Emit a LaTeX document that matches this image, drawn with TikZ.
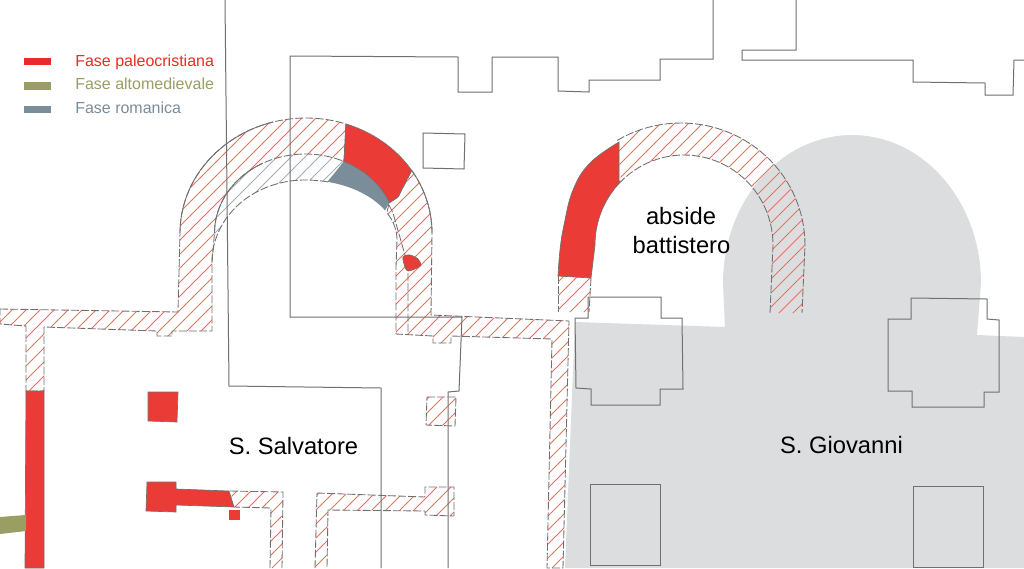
\documentclass[tikz,border=0pt]{standalone}
\usepackage{fontspec}
\setmainfont{Liberation Sans}
\definecolor{rosso}{HTML}{EB3B36}
\definecolor{rossotxt}{HTML}{EE2A26}
\definecolor{oliva}{HTML}{9A9E62}
\definecolor{azzurro}{HTML}{7B8D99}
\definecolor{grigiobg}{HTML}{DCDDDF}
\definecolor{tratto}{HTML}{707070}
\definecolor{hatchred}{HTML}{FA6A62}
\definecolor{hatchgray}{HTML}{A3AFB5}
\tikzset{
  wall/.style={draw=tratto,line width=0.65pt,dash pattern=on 6pt off 1.6pt},
  solidwall/.style={draw=tratto,line width=0.65pt},
  planline/.style={draw=tratto,line width=0.75pt},
  redfill/.style={fill=rosso,draw=tratto,line width=0.5pt},
  legtxt/.style={font=\fontsize{12}{15}\selectfont,anchor=base west,inner sep=0pt},
  bigtxt/.style={font=\fontsize{17.8}{20}\selectfont,anchor=base,inner sep=0pt,text=black},
  arcp/.style={samples=40,variable=\t}
}
\newcommand{\hatchin}[2]{%
  \begin{scope}
    \clip #2;
    \foreach \c in {0,14,...,1610} {\draw[#1,line width=0.6pt] (\c,0) -- (\c-568,568);}
  \end{scope}}
% elliptical arcs, as parametric coordinates
\newcommand{\Ox}{306+126*cos(\t)}\newcommand{\Oy}{233-115*sin(\t)}
\newcommand{\Mx}{305.5+91*cos(\t)}\newcommand{\My}{233-79*sin(\t)}
\newcommand{\Lx}{305+93*cos(\t)}\newcommand{\Ly}{262-82*sin(\t)}
\newcommand{\Rx}{305+92*cos(\t)}\newcommand{\Ry}{240-60*sin(\t)}
\newcommand{\Bx}{681+124*cos(\t)}\newcommand{\By}{245-122*sin(\t)}
\newcommand{\Ix}{684+89*cos(\t)}\newcommand{\Iy}{245-90*sin(\t)}
\newcommand{\salvL}{(0,309) -- (178,312) -- (180,233) -- plot[arcp,domain=180:71.5] ({\Ox},{\Oy}) -- (344,161) -- plot[arcp,domain=65:180] ({\Mx},{\My}) -- (212,262) -- (212,331) -- (172,331) -- (172,336) -- (157,336) -- (157,331) -- (44,327) -- (44,391) -- (26,391) -- (26,326) -- (0,324) -- cycle}
\newcommand{\salvM}{plot[arcp,domain=180:65] ({\Mx},{\My}) -- (337,170) -- (328,181) -- plot[arcp,domain=75.5:90] ({\Rx},{\Ry}) -- plot[arcp,domain=90:180] ({\Lx},{\Ly}) -- cycle}
\newcommand{\salvR}{plot[arcp,domain=33:0] ({\Ox},{\Oy}) -- (431,315) -- (569,321) -- (563,568) -- (547,568) -- (552,339) -- (451,336) -- (451,343) -- (433,343) -- (433,336) -- (396,334) -- (396,267) -- (397,240) -- plot[arcp,domain=0:27] ({\Rx},{\Ry}) -- (389,203) -- (398,197) -- cycle}
\newcommand{\batt}{plot[arcp,domain=121:0] ({\Bx},{\By}) -- (802,313) -- (770,313) -- (773,245) -- plot[arcp,domain=0:135] ({\Ix},{\Iy}) -- cycle}
\begin{document}
\begin{tikzpicture}[x=0.75pt,y=-0.75pt]
\useasboundingbox (0,0) rectangle (1024,568);
\fill[white] (0,0) rectangle (1024,568);

% S. Giovanni ground plan
\fill[grigiobg] (575,322) -- (725,327) -- (723,283) -- plot[samples=60,variable=\t,domain=180:0] ({852+129*cos(\t)},{283-148*sin(\t)}) -- (977,335) -- (1024,337) -- (1024,568) -- (565,568) -- cycle;

% hatching
\hatchin{hatchred}{\salvL}
\hatchin{hatchgray}{\salvM}
\hatchin{hatchred}{\salvR}
\hatchin{hatchred}{\batt}
\hatchin{hatchred}{(558,276) -- (558,312) -- (589,312) -- (591,278) -- cycle}
\hatchin{hatchred}{(427,397) -- (456,397) -- (455,426) -- (426,425) -- cycle}
\hatchin{hatchred}{(317,493) -- (425,497) -- (425,487) -- (454,487) -- (454,516) -- (425,515) -- (425,511) -- (328,510) -- (327,568) -- (315,568) -- cycle}
\hatchin{hatchred}{(230,491) -- (283,492) -- (282,568) -- (270,568) -- (271,508) -- (234,507) -- cycle}

% dashed wall outlines
\draw[wall] \salvL;
\draw[wall] plot[arcp,domain=75.5:90] ({\Rx},{\Ry}) -- plot[arcp,domain=90:180] ({\Lx},{\Ly});
\draw[wall] \salvR;
\draw[wall] plot[arcp,domain=121:0] ({\Bx},{\By}) -- (802,313);
\draw[wall] (770,313) -- (773,245) -- plot[arcp,domain=0:135] ({\Ix},{\Iy});
\draw[wall] (558,276) -- (558,312);
\draw[wall] (591,278) -- (589,312);
\draw[wall] (427,397) -- (456,397) -- (455,426) -- (426,425) -- cycle;
\draw[wall] (317,493) -- (425,497) -- (425,487) -- (454,487) -- (454,516) -- (425,515) -- (425,511) -- (328,510) -- (327,568);
\draw[wall] (315,568) -- (317,493);
\draw[wall] (230,491) -- (283,492) -- (282,568);
\draw[wall] (270,568) -- (271,508) -- (234,507);
\draw[wall] (389,205) -- (393,213) -- (405,255) -- (408,270) -- (408,333);
% solid stretches of the apse edges
\draw[solidwall] plot[arcp,domain=180:105] ({\Ox},{\Oy});
\draw[solidwall] plot[arcp,domain=180:118] ({\Mx},{\My});
\draw[solidwall] plot[arcp,domain=33:0] ({\Ox},{\Oy});

% Coloured phases
\fill[azzurro] (344,161) -- (337,170) -- (328,181) -- plot[arcp,domain=75.5:29.5] ({\Rx},{\Ry}) -- (389,203) -- plot[arcp,domain=23.5:65] ({\Mx},{\My}) -- cycle;
\draw[redfill] plot[arcp,domain=71.5:33] ({\Ox},{\Oy}) -- (398,197) -- (389,203) -- plot[arcp,domain=23.5:65] ({\Mx},{\My}) -- cycle;
\draw[redfill] plot[smooth cycle] coordinates {(403,257) (410,255) (418,259) (421,265) (417,268) (408,271) (405,267)};
\draw[redfill] plot[smooth,tension=0.7] coordinates {(558,276) (560,250) (564,225) (573,190) (590,163) (619,142)} -- (619,181) -- plot[arcp,domain=135:180] ({\Ix},{\Iy}) -- (591,278) -- cycle;
\draw[redfill] (26,391) -- (44,391) -- (44,568) -- (25,568) -- cycle;
\draw[redfill] (148,392) -- (178,392) -- (177,422) -- (148,421) -- cycle;
\draw[redfill] (147,482) -- (176,482) -- (176,489) -- (229,491) -- (234,507) -- (176,505) -- (176,512) -- (146,511) -- cycle;
\fill[rosso] (229,510) rectangle (240,520);
\fill[oliva] (0,517) -- (26,515) -- (26,531) -- (0,534) -- cycle;

% Thin plan lines
\draw[planline] (225,0) -- (229,386) -- (381,388) -- (381,568);
\draw[planline] (713,0) -- (713,59) -- (660,59) -- (660,80) -- (589,80) -- (589,92) -- (558,91) -- (558,57) -- (492,57) -- (492,92) -- (458,92) -- (458,57) -- (290,56) -- (290,317) -- (462,317) -- (459,391) -- (448,392) -- (448,568);
\draw[planline] (796,0) -- (796,50) -- (742,50) -- (742,60) -- (913,60) -- (913,82) -- (985,83) -- (985,95) -- (1013,95) -- (1014,60) -- (1024,60);
\draw[planline] (423,133) -- (465,134) -- (464,169) -- (423,168) -- cycle;
\draw[planline] (588,297) -- (661,297) -- (661,318) -- (682,318) -- (683,389) -- (660,389) -- (660,405) -- (591,405) -- (591,389) -- (576,388) -- (575,318) -- (588,318) -- cycle;
\draw[planline] (911,298) -- (987,299) -- (987,319) -- (999,320) -- (999,392) -- (984,392) -- (984,407) -- (912,407) -- (912,391) -- (888,391) -- (888,319) -- (911,319) -- cycle;
\draw[planline] (590,484) -- (660,484) -- (660,565) -- (590,565) -- cycle;
\draw[planline] (913,486) -- (983,486) -- (983,567) -- (913,567) -- cycle;

% Legend
\fill[rossotxt] (24,58) rectangle (51,65);
\fill[oliva] (24,82) rectangle (51,90);
\fill[azzurro] (24,106) rectangle (51,113);
\node[legtxt,text=rossotxt] (l1) at (75,66) {Fase paleocristiana};
\node[legtxt,text=oliva] (l2) at (75,89.5) {Fase altomedievale};
\node[legtxt,text=azzurro] (l3) at (75,113) {Fase romanica};

% Labels
\node[bigtxt] (salv) at (293.5,454) {S. Salvatore};
\node[bigtxt] (giov) at (841.5,453) {S. Giovanni};
\node[bigtxt] (absi) at (681,224) {abside};
\node[bigtxt] (batl) at (681.5,253) {battistero};
\end{tikzpicture}
\end{document}
